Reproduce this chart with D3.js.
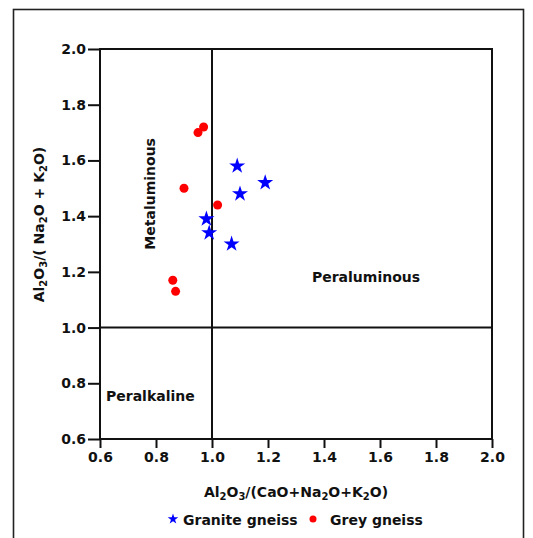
<!DOCTYPE html>
<html>
<head>
<meta charset="utf-8">
<script src="https://cdn.jsdelivr.net/npm/d3@7"></script>
<style>
  body { margin: 0; background: #fff; }
  text { font-family: "DejaVu Sans", sans-serif; font-weight: bold; fill: #111; }
</style>
</head>
<body>
<div id="chart"></div>
<script>
// Data
var xTicks = [0.6, 0.8, 1.0, 1.2, 1.4, 1.6, 1.8, 2.0];
var yTicks = [0.6, 0.8, 1.0, 1.2, 1.4, 1.6, 1.8, 2.0];

var graniteX = [1.09, 1.19, 1.10, 0.98, 0.99, 1.07];
var graniteY = [1.58, 1.52, 1.48, 1.39, 1.34, 1.30];

var greyX = [0.97, 0.95, 0.90, 1.02, 0.86, 0.87];
var greyY = [1.72, 1.70, 1.50, 1.44, 1.17, 1.13];

var svgWidth = 533;
var svgHeight = 538;

var margin = { top: 49, right: 41, bottom: 99, left: 100 };
var width = svgWidth - margin.left - margin.right;
var height = svgHeight - margin.top - margin.bottom;

var svg = d3.select("#chart")
    .append("svg")
    .attr("width", svgWidth)
    .attr("height", svgHeight);

// outer frame
svg.append("rect")
    .attr("x", 13.5)
    .attr("y", 9.5)
    .attr("width", 510)
    .attr("height", 560)
    .attr("fill", "none")
    .attr("stroke", "#222")
    .attr("stroke-width", 1.6);

var chartGroup = svg.append("g")
    .attr("transform", `translate(${margin.left}, ${margin.top})`);

var xScale = d3.scaleLinear().domain([0.6, 2.0]).range([0, width]);
var yScale = d3.scaleLinear().domain([0.6, 2.0]).range([height, 0]);

var bottomAxis = d3.axisBottom(xScale)
    .tickValues(xTicks)
    .tickFormat(d3.format(".1f"))
    .tickSize(9)
    .tickPadding(4);

var leftAxis = d3.axisLeft(yScale)
    .tickValues(yTicks)
    .tickFormat(d3.format(".1f"))
    .tickSize(12)
    .tickPadding(2);

var xAxisG = chartGroup.append("g")
    .attr("transform", `translate(0, ${height})`)
    .call(bottomAxis);

var yAxisG = chartGroup.append("g")
    .call(leftAxis);

[xAxisG, yAxisG].forEach(function (g) {
    g.select(".domain").remove();
    g.selectAll(".tick line").attr("stroke", "#111").attr("stroke-width", 2);
    g.selectAll(".tick text")
        .style("font-family", "DejaVu Sans, sans-serif")
        .style("font-weight", "bold")
        .style("font-size", "14px")
        .attr("fill", "#111");
});

// plot box
chartGroup.append("rect")
    .attr("width", width)
    .attr("height", height)
    .attr("fill", "none")
    .attr("stroke", "#111")
    .attr("stroke-width", 2);

// dividing lines at 1.0
chartGroup.append("line")
    .attr("x1", xScale(1.0)).attr("x2", xScale(1.0))
    .attr("y1", 0).attr("y2", height)
    .attr("stroke", "#111").attr("stroke-width", 2);

chartGroup.append("line")
    .attr("x1", 0).attr("x2", width)
    .attr("y1", yScale(1.0)).attr("y2", yScale(1.0))
    .attr("stroke", "#111").attr("stroke-width", 2);

// field labels
chartGroup.append("text")
    .attr("transform", `translate(${xScale(0.8) - 6}, ${yScale(1.48)}) rotate(-90)`)
    .attr("text-anchor", "middle")
    .attr("dy", "0.35em")
    .style("font-size", "14px")
    .text("Metaluminous");

chartGroup.append("text")
    .attr("x", xScale(1.55))
    .attr("y", yScale(1.18))
    .attr("text-anchor", "middle")
    .attr("dy", "0.35em")
    .style("font-size", "14px")
    .text("Peraluminous");

chartGroup.append("text")
    .attr("x", 6)
    .attr("y", yScale(0.755))
    .attr("dy", "0.35em")
    .style("font-size", "14px")
    .text("Peralkaline");

// points
var granite = graniteX.map((x, i) => ({ x: x, y: graniteY[i] }));
var grey = greyX.map((x, i) => ({ x: x, y: greyY[i] }));

var star = d3.symbol().type(d3.symbolStar).size(80);

chartGroup.selectAll(".granite")
    .data(granite)
    .enter()
    .append("path")
    .attr("class", "granite")
    .attr("d", star)
    .attr("transform", d => `translate(${xScale(d.x)}, ${yScale(d.y)})`)
    .attr("fill", "#0000ff");

chartGroup.selectAll(".grey")
    .data(grey)
    .enter()
    .append("circle")
    .attr("class", "grey")
    .attr("cx", d => xScale(d.x))
    .attr("cy", d => yScale(d.y))
    .attr("r", 4.5)
    .attr("fill", "#ff0000");

// axis titles with subscripts: strings are normal text, numbers are subscripts
function formula(t, parts) {
    var shift = 0;
    parts.forEach(function (p) {
        if (typeof p === "number") {
            t.append("tspan").attr("dy", 3 - shift).style("font-size", "10px").text(String(p));
            shift = 3;
        } else {
            t.append("tspan").attr("dy", -shift).text(p);
            shift = 0;
        }
    });
}

var yTitle = svg.append("text")
    .attr("transform", `translate(44, ${margin.top + yScale(1.37)}) rotate(-90)`)
    .attr("text-anchor", "middle")
    .style("font-size", "14px");
formula(yTitle, ["Al", 2, "O", 3, "/( Na", 2, "O + K", 2, "O)"]);

var xTitle = svg.append("text")
    .attr("x", 296)
    .attr("y", 497)
    .attr("text-anchor", "middle")
    .style("font-size", "14px");
formula(xTitle, ["Al", 2, "O", 3, "/(CaO+Na", 2, "O+K", 2, "O)"]);

// legend
var legend = svg.append("g").attr("transform", "translate(0, 520)");

legend.append("path")
    .attr("d", d3.symbol().type(d3.symbolStar).size(35))
    .attr("transform", "translate(173, -1)")
    .attr("fill", "#0000ff");

legend.append("text")
    .attr("x", 183)
    .attr("dy", "0.35em")
    .style("font-size", "14px")
    .text("Granite gneiss");

legend.append("circle")
    .attr("cx", 313)
    .attr("cy", -1)
    .attr("r", 3.5)
    .attr("fill", "#ff0000");

legend.append("text")
    .attr("x", 330)
    .attr("dy", "0.35em")
    .style("font-size", "14px")
    .text("Grey gneiss");
</script>
</body>
</html>
